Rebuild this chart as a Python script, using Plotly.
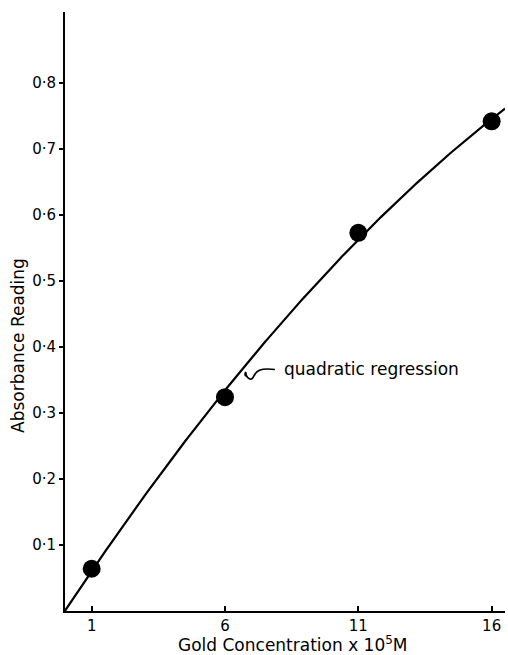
import numpy as np
import plotly.graph_objects as go

# Data
conc = [1, 6, 11, 16]
absorbance = [0.064, 0.324, 0.573, 0.742]

x_tick_vals = [1, 6, 11, 16]
x_tick_text = ["1", "6", "11", "16"]
y_tick_vals = [0.1, 0.2, 0.3, 0.4, 0.5, 0.6, 0.7, 0.8]
y_tick_text = ["0·1", "0·2", "0·3", "0·4", "0·5", "0·6", "0·7", "0·8"]

x_range = [0, 16.5]
y_range = [0, 0.9076]

# Quadratic regression through the measured points
coef = np.polyfit(conc, absorbance, 2)
fit_x = np.linspace(x_range[0], x_range[1], 300)
fit_y = np.polyval(coef, fit_x)

FONT = "DejaVu Sans"

fig = go.Figure()
fig.add_trace(go.Scatter(x=fit_x, y=fit_y, mode="lines",
                         line=dict(color="black", width=2.2),
                         hoverinfo="skip", showlegend=False))
fig.add_trace(go.Scatter(x=conc, y=absorbance, mode="markers",
                         marker=dict(color="black", size=18),
                         showlegend=False))

# leader squiggle for the annotation
fig.add_shape(type="path",
              path="M 6.77,0.359 C 6.88,0.350 7.00,0.349 7.08,0.356 S 7.30,0.369 7.87,0.366",
              line=dict(color="black", width=1.6), xref="x", yref="y")
fig.add_shape(type="circle", x0=6.72, x1=6.82, y0=0.355, y1=0.363,
              fillcolor="black", line=dict(color="black", width=0), xref="x", yref="y")

fig.add_annotation(x=8.14, y=0.3667, xref="x", yref="y", text="quadratic regression",
                   showarrow=False, xanchor="left", yanchor="middle",
                   font=dict(family=FONT, size=17, color="black"))

fig.add_annotation(x=-0.107, y=0.444, xref="paper", yref="paper",
                   text="Absorbance Reading", textangle=-90, showarrow=False,
                   xanchor="center", yanchor="middle",
                   font=dict(family=FONT, size=17, color="black"))

fig.add_annotation(x=0.519, y=-0.0768, xref="paper", yref="paper",
                   text="Gold Concentration x 10<sup>5</sup>M", showarrow=False,
                   xanchor="center", yanchor="bottom",
                   font=dict(family=FONT, size=17, color="black"))

fig.update_layout(
    width=508, height=655,
    margin=dict(l=65, r=3, t=12, b=44),
    paper_bgcolor="white", plot_bgcolor="white",
    font=dict(family=FONT, size=15, color="black"),
    xaxis=dict(range=x_range, tickvals=x_tick_vals, ticktext=x_tick_text,
               showgrid=False, zeroline=False, showline=True,
               linecolor="black", linewidth=2, ticks="inside", ticklen=5,
               tickwidth=1.5, tickcolor="black",
               tickfont=dict(family=FONT, size=15)),
    yaxis=dict(range=y_range, tickvals=y_tick_vals, ticktext=y_tick_text,
               showgrid=False, zeroline=False, showline=True,
               linecolor="black", linewidth=2, ticks="outside", ticklen=4,
               tickwidth=1.5, tickcolor="black",
               tickfont=dict(family=FONT, size=15)),
)

fig.write_html("out.html", config={"displayModeBar": False},
               post_script="document.body.style.margin='0';document.body.style.overflow='hidden';")
